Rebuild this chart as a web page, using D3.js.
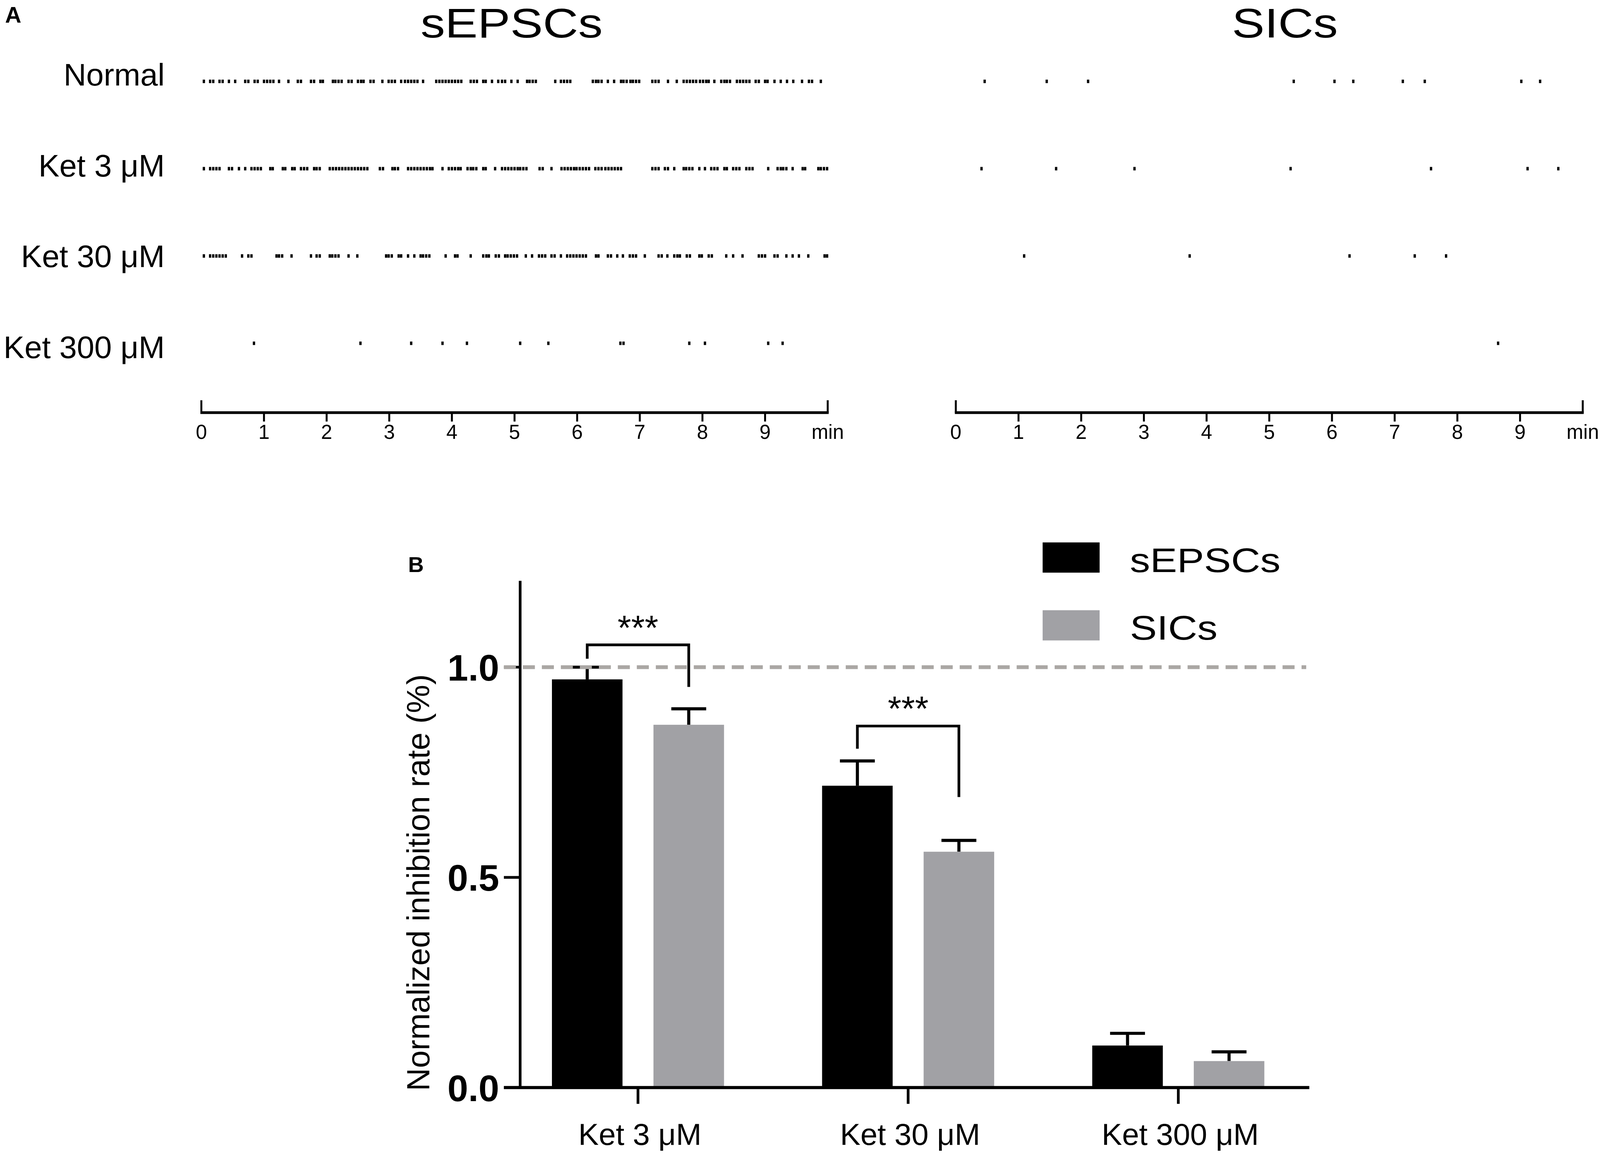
<!DOCTYPE html>
<html>
<head>
<meta charset="utf-8">
<script src="https://cdn.jsdelivr.net/npm/d3@7"></script>
<style>
  html, body { margin: 0; padding: 0; background: #fff; overflow: hidden; width: 100%; height: 100%; }
  svg { display: block; }
  text { font-family: "Liberation Sans", Arial, sans-serif; fill: #000; }
</style>
</head>
<body>
<script>
const W = 4128, H = 2981;

// ---- panel A: event rasters (times in min) ----
const rowLabels = ['Normal', 'Ket 3 μM', 'Ket 30 μM', 'Ket 300 μM'];
const timeTicks = [0, 1, 2, 3, 4, 5, 6, 7, 8, 9, 10];

const sepscNormal = [0.04, 0.14, 0.19, 0.29, 0.34, 0.44, 0.54, 0.70, 0.75, 0.85, 0.90, 1.00, 1.05, 1.10, 1.15, 1.24, 1.39, 1.54, 1.59, 1.75, 1.80, 1.90, 1.94, 2.10, 2.14, 2.19, 2.24, 2.35, 2.40, 2.50, 2.55, 2.59, 2.70, 2.75, 2.89, 2.99, 3.04, 3.09, 3.19, 3.25, 3.30, 3.35, 3.40, 3.45, 3.54, 3.75, 3.80, 3.85, 3.90, 3.95, 4.00, 4.05, 4.10, 4.15, 4.30, 4.35, 4.40, 4.50, 4.54, 4.64, 4.74, 4.80, 4.85, 4.95, 5.05, 5.20, 5.24, 5.29, 5.34, 5.65, 5.74, 5.79, 5.84, 5.89, 6.25, 6.30, 6.34, 6.39, 6.49, 6.59, 6.70, 6.74, 6.79, 6.85, 6.89, 6.94, 6.99, 7.20, 7.25, 7.30, 7.45, 7.59, 7.70, 7.75, 7.80, 7.85, 7.90, 7.96, 8.01, 8.06, 8.10, 8.19, 8.30, 8.35, 8.39, 8.44, 8.55, 8.60, 8.65, 8.70, 8.75, 8.85, 8.90, 9.00, 9.04, 9.15, 9.25, 9.35, 9.45, 9.59, 9.70, 9.75, 9.89];
const sepscKet3 = [0.04, 0.14, 0.19, 0.24, 0.29, 0.44, 0.49, 0.60, 0.70, 0.80, 0.85, 0.90, 0.95, 1.10, 1.14, 1.30, 1.34, 1.45, 1.49, 1.59, 1.64, 1.69, 1.80, 1.84, 1.89, 2.05, 2.10, 2.15, 2.20, 2.25, 2.30, 2.35, 2.40, 2.45, 2.50, 2.55, 2.60, 2.65, 2.85, 2.90, 3.05, 3.09, 3.14, 3.30, 3.35, 3.40, 3.45, 3.50, 3.55, 3.60, 3.65, 3.69, 3.85, 3.95, 4.00, 4.05, 4.10, 4.14, 4.25, 4.30, 4.34, 4.39, 4.50, 4.54, 4.69, 4.80, 4.85, 4.90, 4.95, 5.00, 5.05, 5.09, 5.14, 5.19, 5.40, 5.45, 5.59, 5.75, 5.80, 5.85, 5.90, 5.95, 5.99, 6.04, 6.09, 6.14, 6.19, 6.29, 6.34, 6.39, 6.45, 6.50, 6.55, 6.60, 6.65, 6.70, 7.20, 7.25, 7.30, 7.40, 7.45, 7.55, 7.70, 7.74, 7.79, 7.84, 7.95, 8.04, 8.14, 8.19, 8.24, 8.35, 8.39, 8.49, 8.54, 8.59, 8.70, 8.75, 8.80, 9.05, 9.20, 9.25, 9.29, 9.34, 9.44, 9.60, 9.64, 9.85, 9.89, 9.94, 9.99];
const sepscKet30 = [0.04, 0.14, 0.19, 0.24, 0.29, 0.34, 0.39, 0.65, 0.75, 0.80, 1.20, 1.24, 1.29, 1.44, 1.75, 1.84, 1.89, 2.05, 2.09, 2.14, 2.19, 2.35, 2.49, 2.95, 2.99, 3.04, 3.15, 3.19, 3.30, 3.40, 3.50, 3.54, 3.59, 3.64, 3.90, 4.05, 4.09, 4.30, 4.50, 4.55, 4.59, 4.70, 4.75, 4.85, 4.89, 4.94, 4.99, 5.04, 5.18, 5.28, 5.39, 5.44, 5.49, 5.59, 5.64, 5.74, 5.84, 5.89, 5.94, 5.99, 6.04, 6.09, 6.14, 6.30, 6.34, 6.49, 6.54, 6.64, 6.73, 6.84, 6.89, 6.94, 7.08, 7.30, 7.35, 7.44, 7.55, 7.60, 7.64, 7.75, 7.80, 7.95, 7.99, 8.10, 8.15, 8.38, 8.49, 8.64, 8.90, 8.95, 9.00, 9.15, 9.20, 9.34, 9.44, 9.54, 9.69, 9.95, 9.99];
const sepscKet300 = [0.84, 2.54, 3.35, 3.85, 4.24, 5.09, 5.54, 6.69, 6.74, 7.79, 8.04, 9.05, 9.28];

const sicNormal = [0.46, 1.45, 2.11, 5.39, 6.04, 6.34, 7.13, 7.48, 9.02, 9.32];
const sicKet3 = [0.41, 1.60, 2.85, 5.34, 7.58, 9.12, 9.61];
const sicKet30 = [1.09, 3.73, 6.28, 7.32, 7.82];
const sicKet300 = [8.65];

// ---- panel B: grouped bars ----
const barCats = ['Ket 3 μM', 'Ket 30 μM', 'Ket 300 μM'];
const seriesNames = ['sEPSCs', 'SICs'];
const seriesColors = ['#000000', '#a1a1a5'];
const sepscMean = [0.971, 0.718, 0.100];
const sepscErr = [0.029, 0.059, 0.029];
const sicMean = [0.863, 0.561, 0.063];
const sicErr = [0.038, 0.027, 0.022];
const yTicks = [0.0, 0.5, 1.0];
const refLine = 1.0;
// significance brackets: bracket top, left leg end, right leg end
const sigCats = ['Ket 3 μM', 'Ket 30 μM'];
const sigTop = [1.053, 0.860];
const sigLeftEnd = [1.020, 0.806];
const sigRightEnd = [0.953, 0.691];
const sigLabel = ['***', '***'];

// scale the whole figure to whatever viewport the page gets
const svg = d3.select('body').append('svg')
    .attr('viewBox', `0 0 ${W} ${H}`)
    .attr('preserveAspectRatio', 'xMidYMin meet')
    .style('width', '100vw')
    .style('height', '100vh');

// ---------------- panel A ----------------
svg.append('text')
    .attr('x', 13).attr('y', 58)
    .attr('font-size', 58).attr('font-weight', 'bold')
    .text('A');

const rowY = d3.scalePoint().domain(rowLabels).range([210, 886]);
const labelY = d3.scalePoint().domain(rowLabels).range([192, 895]);

svg.selectAll('.rowlabel')
    .data(rowLabels)
    .join('text')
    .attr('class', 'rowlabel')
    .attr('x', 425)
    .attr('y', d => labelY(d))
    .attr('dy', '0.36em')
    .attr('text-anchor', 'end')
    .attr('font-size', 81)
    .text(d => d);

function raster(events, x, title, titleX) {
    const g = svg.append('g');

    g.append('text')
        .attr('transform', `translate(${titleX},97) scale(1.19,1)`)
        .attr('text-anchor', 'middle')
        .attr('font-size', 106)
        .text(title);

    events.forEach((ev, i) => {
        g.selectAll(null)
            .data(ev)
            .join('rect')
            .attr('x', d => x(d) - 3)
            .attr('y', rowY(rowLabels[i]) - 4.5)
            .attr('width', 6)
            .attr('height', 9)
            .attr('fill', '#000');
    });

    // time axis: thick baseline, end caps upward, minute ticks downward
    const axisY = 1065;
    g.append('line')
        .attr('x1', x(0) - 2.5).attr('x2', x(10) + 2.5)
        .attr('y1', axisY).attr('y2', axisY)
        .attr('stroke', '#000').attr('stroke-width', 7);
    g.selectAll('.cap')
        .data([0, 10])
        .join('line')
        .attr('x1', d => x(d)).attr('x2', d => x(d))
        .attr('y1', axisY).attr('y2', axisY - 32)
        .attr('stroke', '#000').attr('stroke-width', 5);
    g.selectAll('.tick')
        .data(timeTicks.slice(1, -1))
        .join('line')
        .attr('x1', d => x(d)).attr('x2', d => x(d))
        .attr('y1', axisY).attr('y2', axisY + 23)
        .attr('stroke', '#000').attr('stroke-width', 5);
    g.selectAll('.ticklabel')
        .data(timeTicks)
        .join('text')
        .attr('x', d => x(d))
        .attr('y', 1133)
        .attr('text-anchor', 'middle')
        .attr('font-size', 52)
        .text(d => d === 10 ? 'min' : d);
}

const xLeft = d3.scaleLinear().domain([0, 10]).range([519.5, 2135.5]);
const xRight = d3.scaleLinear().domain([0, 10]).range([2466, 4083.5]);

raster([sepscNormal, sepscKet3, sepscKet30, sepscKet300], xLeft, 'sEPSCs', 1320);
raster([sicNormal, sicKet3, sicKet30, sicKet300], xRight, 'SICs', 3315);

// ---------------- panel B ----------------
svg.append('text')
    .attr('x', 1053).attr('y', 1476)
    .attr('font-size', 56).attr('font-weight', 'bold')
    .text('B');

const y = d3.scaleLinear().domain([0, 1.2]).range([2807, 1505]);
const x0 = d3.scalePoint().domain(barCats).range([1646, 3040]);
const x1 = d3.scaleBand().domain(seriesNames).range([-222, 222]).paddingInner(0.305);

const barData = [];
barCats.forEach((c, i) => {
    barData.push({ cat: c, s: 'sEPSCs', v: sepscMean[i], e: sepscErr[i], color: seriesColors[0] });
    barData.push({ cat: c, s: 'SICs', v: sicMean[i], e: sicErr[i], color: seriesColors[1] });
});
const cx = d => x0(d.cat) + x1(d.s) + x1.bandwidth() / 2;

// error bars (upper only), drawn under the bars
const errG = svg.append('g').attr('stroke', '#000').attr('stroke-width', 8);
errG.selectAll('.ev')
    .data(barData)
    .join('line')
    .attr('x1', cx).attr('x2', cx)
    .attr('y1', d => y(d.v)).attr('y2', d => y(d.v + d.e));
errG.selectAll('.eh')
    .data(barData)
    .join('line')
    .attr('x1', d => cx(d) - 45).attr('x2', d => cx(d) + 45)
    .attr('y1', d => y(d.v + d.e)).attr('y2', d => y(d.v + d.e));

svg.selectAll('.bar')
    .data(barData)
    .join('rect')
    .attr('class', 'bar')
    .attr('x', d => x0(d.cat) + x1(d.s))
    .attr('width', x1.bandwidth())
    .attr('y', d => y(d.v))
    .attr('height', d => y(0) - y(d.v))
    .attr('fill', d => d.color);

// axes
svg.append('line')
    .attr('x1', 1342).attr('x2', 1342)
    .attr('y1', y(0)).attr('y2', y(1.2) - 6)
    .attr('stroke', '#000').attr('stroke-width', 7);
svg.selectAll('.ytick')
    .data(yTicks)
    .join('line')
    .attr('x1', 1300).attr('x2', 1342)
    .attr('y1', d => y(d)).attr('y2', d => y(d))
    .attr('stroke', '#000').attr('stroke-width', 7);
svg.selectAll('.ylabel')
    .data(yTicks)
    .join('text')
    .attr('x', 1288)
    .attr('y', d => y(d))
    .attr('dy', '0.36em')
    .attr('text-anchor', 'end')
    .attr('font-size', 96)
    .attr('font-weight', 'bold')
    .text(d => d3.format('.1f')(d));

svg.append('line')
    .attr('x1', 1300).attr('x2', 3378)
    .attr('y1', y(0)).attr('y2', y(0))
    .attr('stroke', '#000').attr('stroke-width', 8);
svg.selectAll('.xtick')
    .data(barCats)
    .join('line')
    .attr('x1', d => x0(d)).attr('x2', d => x0(d))
    .attr('y1', y(0)).attr('y2', y(0) + 42)
    .attr('stroke', '#000').attr('stroke-width', 7);
svg.selectAll('.xlabel')
    .data(barCats)
    .join('text')
    .attr('x', d => x0(d) + 5)
    .attr('y', 2955)
    .attr('text-anchor', 'middle')
    .attr('font-size', 79)
    .text(d => d);

// reference line at 1.0
svg.append('line')
    .attr('x1', 1300).attr('x2', 3370)
    .attr('y1', y(refLine)).attr('y2', y(refLine))
    .attr('stroke', '#aaa7a4').attr('stroke-width', 10)
    .attr('stroke-dasharray', '31 18');

svg.append('text')
    .attr('transform', 'translate(1108,2278) rotate(-90)')
    .attr('text-anchor', 'middle')
    .attr('font-size', 82)
    .text('Normalized inhibition rate (%)');

// significance brackets
sigCats.forEach((c, i) => {
    const xl = x0(c) + x1('sEPSCs') + x1.bandwidth() / 2;
    const xr = x0(c) + x1('SICs') + x1.bandwidth() / 2;
    svg.append('path')
        .attr('d', `M${xl},${y(sigLeftEnd[i])}V${y(sigTop[i])}H${xr}V${y(sigRightEnd[i])}`)
        .attr('fill', 'none')
        .attr('stroke', '#000')
        .attr('stroke-width', 7);
    svg.append('text')
        .attr('x', (xl + xr) / 2)
        .attr('y', y(sigTop[i]) - 14)
        .attr('text-anchor', 'middle')
        .attr('font-size', 90)
        .text(sigLabel[i]);
});

// legend
const legY = d3.scalePoint().domain(seriesNames).range([1439, 1614]);
svg.selectAll('.legrect')
    .data(seriesNames)
    .join('rect')
    .attr('x', 2690)
    .attr('y', d => legY(d) - 39)
    .attr('width', 147)
    .attr('height', 78)
    .attr('fill', (d, i) => seriesColors[i]);
svg.selectAll('.legtext')
    .data(seriesNames)
    .join('text')
    .attr('transform', d => `translate(2915,${legY(d) + 37}) scale(1.2,1)`)
    .attr('font-size', 87)
    .text(d => d);
</script>
</body>
</html>
